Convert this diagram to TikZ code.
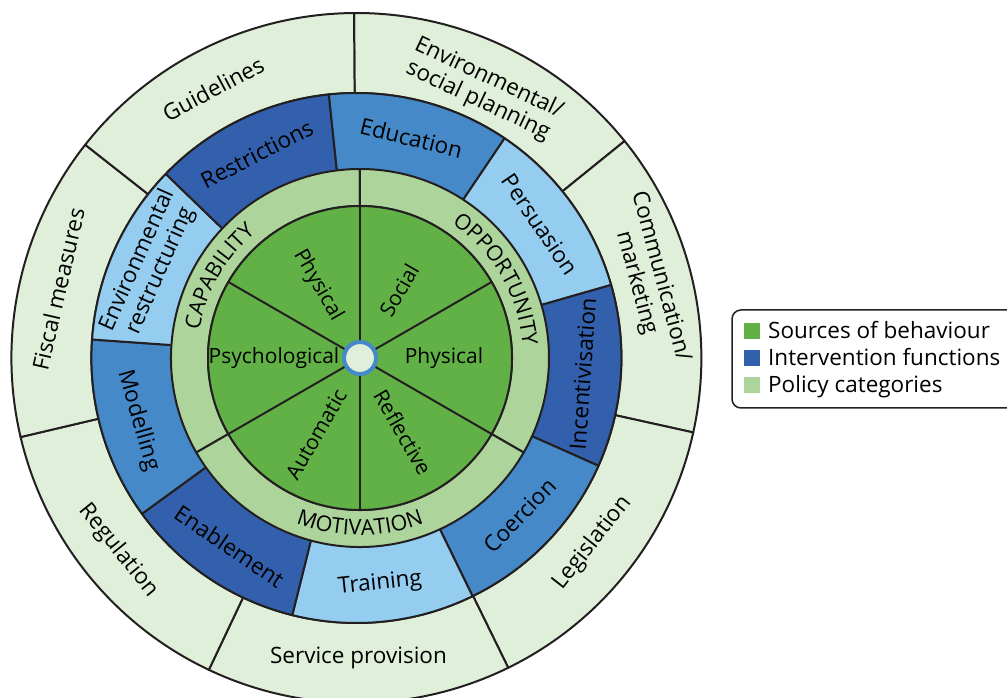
\documentclass[tikz,border=0pt]{standalone}
\usepackage{fontspec}
\setmainfont{Open Sans}
\usetikzlibrary{decorations.text}

\definecolor{srcgreen}{HTML}{62B146}
\definecolor{capgreen}{HTML}{ADD49B}
\definecolor{polgreen}{HTML}{E0EFD9}
\definecolor{ifdark}{HTML}{3360AC}
\definecolor{ifmid}{HTML}{4589C8}
\definecolor{iflight}{HTML}{94CDEF}
\definecolor{wheelline}{HTML}{231F20}

\newcommand{\wheelfont}{\fontsize{22.5}{25}\selectfont}
\newcommand{\ringfont}{\fontsize{21.5}{24}\selectfont}
\newcommand{\srcfont}{\fontsize{21}{24}\selectfont}

% one piece of a ring: colour, outer r, inner r, from, to
\newcommand{\ringpiece}[5]{%
  \filldraw[wheel, fill=#1] (#4:#2) arc[start angle=#4, end angle=#5, radius=#2]
    -- (#5:#3) arc[start angle=#5, end angle=#4, radius=#3] -- cycle;}

\tikzset{
  wheel/.style={draw=wheelline, line width=2pt, line join=round},
  seglabel/.style={font=\wheelfont, align=center, inner sep=0pt},
  srclabel/.style={font=\srcfont, inner sep=0pt},
  keysquare/.style={minimum size=16pt, inner sep=0pt},
  keytext/.style={font=\wheelfont, inner sep=0pt, anchor=base west},
}

\begin{document}
\begin{tikzpicture}[x=1pt, y=1pt]
\clip (-360,-340) rectangle (647,358);

\begin{scope}[shift={(-3.6,0)}]
% policy categories
\foreach \k in {0,...,6}{
  \pgfmathsetmacro{\from}{90.4-51.43*\k}
  \pgfmathsetmacro{\to}{\from-51.43}
  \ringpiece{polgreen}{345}{265}{\from}{\to}
}
% intervention functions, from Education round
\foreach \k/\col in {0/ifmid,1/iflight,2/ifdark,3/ifmid,4/iflight,5/ifdark,6/ifmid,7/iflight,8/ifdark}{
  \pgfmathsetmacro{\from}{96-40*\k}
  \pgfmathsetmacro{\to}{\from-40}
  \ringpiece{\col}{265}{175}{\from}{\to}
}

\node[seglabel, rotate=-25.3] (pol-plan) at (64.7:297) {Environmental/\\social planning};
\node[seglabel, rotate=-75] (pol-comm) at (15:302) {Communication/\\marketing};
\node[seglabel, rotate=51.9] (pol-leg) at (-38.1:300) {Legislation};
\node[seglabel] (pol-serv) at (-89.6:300) {Service provision};
\node[seglabel, rotate=-51] (pol-reg) at (-141:306) {Regulation};
\node[seglabel, rotate=77] (pol-fisc) at (167:306) {Fiscal measures};
\node[seglabel, rotate=28] (pol-guide) at (118:305) {Guidelines};

\node[seglabel, rotate=27] (if-restr) at (116:227) {Restrictions};
\node[seglabel, rotate=-14] (if-edu) at (76:227) {Education};
\node[seglabel, rotate=-56] (if-pers) at (36:227) {Persuasion};
\node[seglabel, rotate=86] (if-incent) at (-4:227) {Incentivisation};
\node[seglabel, rotate=46] (if-coerc) at (-44:227) {Coercion};
\node[seglabel, rotate=6] (if-train) at (-84:227) {Training};
\node[seglabel, rotate=-34] (if-enab) at (-124:227) {Enablement};
\node[seglabel, rotate=-74] (if-model) at (196:227) {Modelling};
\node[seglabel, rotate=66] (if-envr) at (156:227) {Environmental\\restructuring};
\end{scope}

% sources of behaviour
\ringpiece{capgreen}{189}{152}{210}{90}
\ringpiece{capgreen}{189}{152}{90}{-30}
\ringpiece{capgreen}{189}{152}{-30}{-150}
\filldraw[wheel, fill=srcgreen] (0,0) circle[radius=152];
\foreach \a in {30,90,...,330}
  \path[draw, wheel] (0,0) -- (\a:152);
\node[circle, minimum size=32pt, inner sep=0pt, fill=polgreen, draw=ifmid, line width=4pt] (hub) at (0,0) {};

\path[decorate, decoration={text along path, text align=center, text={|\ringfont|CAPABILITY}}]
  (210:163) arc[start angle=210, end angle=90, radius=163];
\path[decorate, decoration={text along path, text align=center, text={|\ringfont|OPPORTUNITY}}]
  (90:163) arc[start angle=90, end angle=-30, radius=163];
\path[decorate, decoration={text along path, text align=center, text={|\ringfont|MOTIVATION}}]
  (210:177) arc[start angle=210, end angle=330, radius=177];

\node[srclabel, rotate=-60] (cap-phys) at (120:84) {Physical};
\node[srclabel] (cap-psych) at (180:86) {Psychological};
\node[srclabel, rotate=60] (opp-soc) at (60:78) {Social};
\node[srclabel] (opp-phys) at (0:84) {Physical};
\node[srclabel, rotate=-60] (mot-refl) at (300:86) {Reflective};
\node[srclabel, rotate=60] (mot-auto) at (240:88) {Automatic};

% key
\draw[wheelline, line width=1.5pt, rounded corners=9pt] (372,48) rectangle (680,-50);
\node[keysquare, fill=srcgreen] (key-src) at (392,27) {};
\node[keysquare, fill=ifdark] (key-if) at (392,0) {};
\node[keysquare, fill=capgreen] (key-pol) at (392,-27) {};
\node[keytext] (key-src-text) at (408,19) {Sources of behaviour};
\node[keytext] (key-if-text) at (408,-8) {Intervention functions};
\node[keytext] (key-pol-text) at (408,-35) {Policy categories};
\end{tikzpicture}
\end{document}
